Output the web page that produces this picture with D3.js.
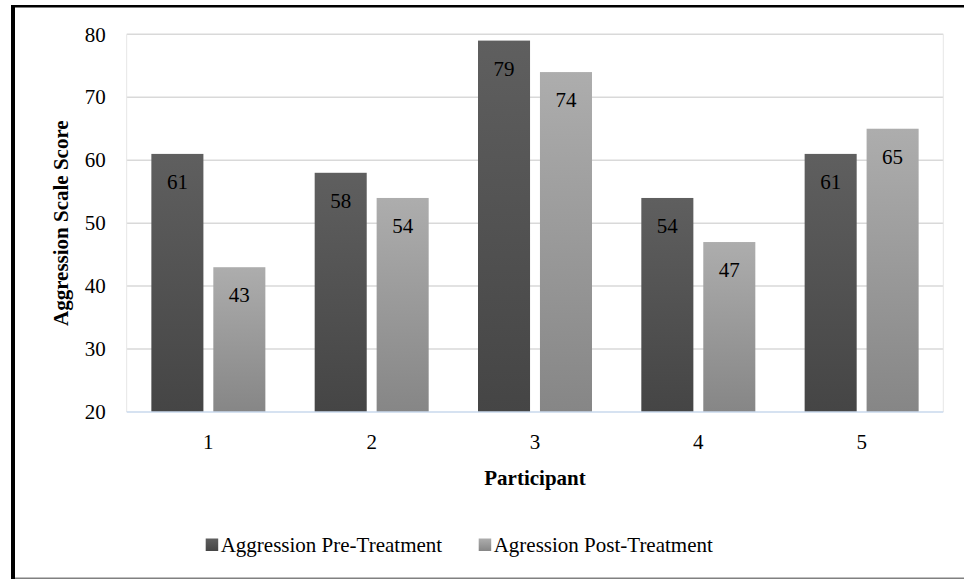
<!DOCTYPE html>
<html>
<head>
<meta charset="utf-8">
<script src="https://cdn.jsdelivr.net/npm/d3@7"></script>
<style>
  body { margin:0; background:#fff; }
  svg text { font-family:"Times New Roman","Liberation Serif",Tinos,"DejaVu Serif",serif; fill:#000; }
</style>
</head>
<body>
<div id="chart"></div>
<script>
const width = 964
const height = 579
const fontFam = "'Times New Roman','Liberation Serif',Tinos,'DejaVu Serif',serif"

// data
const participants = ["1","2","3","4","5"]
const preTreatment = [61,58,79,54,61]
const postTreatment = [43,54,74,47,65]
const seriesNames = ["Aggression Pre-Treatment","Agression Post-Treatment"]
const yTicks = [20,30,40,50,60,70,80]

const plot = {left:126.7, right:943.3, top:34.3, bottom:412}

const svg = d3.select("div#chart").append("svg").attr("width",width).attr("height",height)
    .attr("font-family",fontFam)

const defs = svg.append("defs")
const grads = [
    {id:"gradPre", top:"#5f5f5f", bottom:"#454545"},
    {id:"gradPost", top:"#adadad", bottom:"#868686"}
]
grads.forEach(g => {
    const lg = defs.append("linearGradient").attr("id",g.id).attr("x1",0).attr("y1",0).attr("x2",0).attr("y2",1)
    lg.append("stop").attr("offset","0%").attr("stop-color",g.top)
    lg.append("stop").attr("offset","100%").attr("stop-color",g.bottom)
})

// frame
svg.append("rect").attr("x",11).attr("y",5).attr("width",width-11).attr("height",2.5).attr("fill","#000")
svg.append("rect").attr("x",11).attr("y",5).attr("width",4).attr("height",height-5).attr("fill","#000")
svg.append("rect").attr("x",15).attr("y",577.5).attr("width",width-15).attr("height",1.5).attr("fill","#808080")

const x0 = d3.scaleBand().domain(participants).range([plot.left,plot.right]).paddingInner(0.302).paddingOuter(0.151)
const x1 = d3.scaleBand().domain([0,1]).range([0,x0.bandwidth()]).paddingInner(0.16)
const y = d3.scaleLinear().domain([20,80]).range([plot.bottom,plot.top])

// grid
const grid = svg.append("g").attr("class","grid")
grid.selectAll("line").data(yTicks.slice(1)).enter().append("line")
    .attr("x1",plot.left).attr("x2",plot.right)
    .attr("y1",d => y(d)).attr("y2",d => y(d))
    .attr("stroke","#d9d9d9").attr("stroke-width",1.5)
svg.append("line").attr("x1",plot.left).attr("x2",plot.left).attr("y1",plot.top).attr("y2",plot.bottom)
    .attr("stroke","#e6e6e6").attr("stroke-width",1)
svg.append("line").attr("x1",plot.right).attr("x2",plot.right).attr("y1",plot.top).attr("y2",plot.bottom)
    .attr("stroke","#e6e6e6").attr("stroke-width",1)

// y axis
const yAxis = d3.axisLeft(y).tickValues(yTicks).tickSize(0).tickPadding(21)
const yAxisGroup = svg.append("g").attr("transform",`translate(${plot.left},0)`).call(yAxis)
    .attr("font-family",fontFam).attr("font-size",21)
yAxisGroup.select(".domain").remove()
yAxisGroup.selectAll("text").attr("fill","#000")

// x axis
const xAxis = d3.axisBottom(x0).tickSize(0).tickPadding(22)
const xAxisGroup = svg.append("g").attr("transform",`translate(0,${plot.bottom})`).call(xAxis)
    .attr("font-family",fontFam).attr("font-size",21)
xAxisGroup.select(".domain").remove()
xAxisGroup.selectAll("text").attr("fill","#000")

// bars
const rows = participants.map((p,i) => ({p, vals:[preTreatment[i], postTreatment[i]]}))
const groups = svg.selectAll("g.bar").data(rows).enter().append("g").attr("class","bar")
    .attr("transform",d => `translate(${x0(d.p)},0)`)
groups.selectAll("rect").data(d => d.vals).enter().append("rect")
    .attr("x",(d,i) => x1(i))
    .attr("y",d => y(d))
    .attr("width",x1.bandwidth())
    .attr("height",d => plot.bottom - y(d))
    .attr("fill",(d,i) => `url(#${grads[i].id})`)
groups.selectAll("text").data(d => d.vals).enter().append("text")
    .attr("x",(d,i) => x1(i) + x1.bandwidth()/2)
    .attr("y",d => y(d) + 35)
    .attr("text-anchor","middle")
    .attr("font-size",21)
    .text(d => d)

// baseline
svg.append("line").attr("x1",plot.left).attr("x2",plot.right).attr("y1",plot.bottom).attr("y2",plot.bottom)
    .attr("stroke","#c9d8ec").attr("stroke-width",1.5)

// titles
svg.append("text").attr("transform",`translate(68,${(plot.top+plot.bottom)/2}) rotate(-90)`)
    .attr("text-anchor","middle").attr("font-size",21).attr("font-weight","bold")
    .text("Aggression Scale Score")
svg.append("text").attr("x",(plot.left+plot.right)/2).attr("y",485)
    .attr("text-anchor","middle").attr("font-size",21).attr("font-weight","bold")
    .text("Participant")

// legend
const legendX = [205.7, 478.7]
const legend = svg.selectAll("g.legend").data(seriesNames).enter().append("g").attr("class","legend")
    .attr("transform",(d,i) => `translate(${legendX[i]},0)`)
legend.append("rect").attr("x",0).attr("y",538.5).attr("width",12.5).attr("height",12.5)
    .attr("fill",(d,i) => `url(#${grads[i].id})`)
legend.append("text").attr("x",15).attr("y",552).attr("font-size",21).text(d => d)
</script>
</body>
</html>
